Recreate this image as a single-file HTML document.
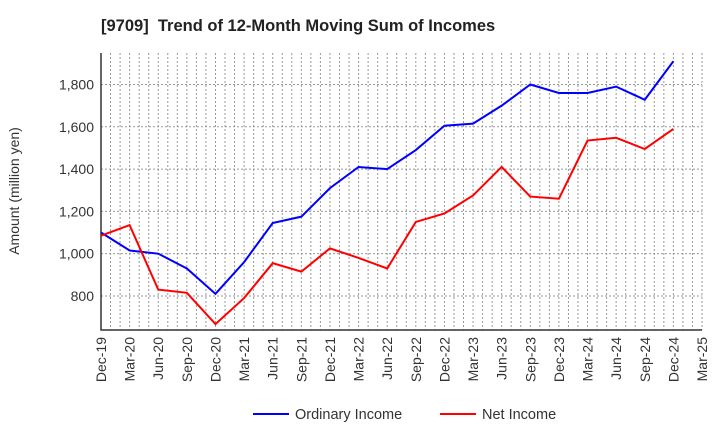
<!DOCTYPE html>
<html><head><meta charset="utf-8"><style>
body{margin:0;background:#fff;font-family:"Liberation Sans",sans-serif}
</style></head><body>
<svg width="720" height="440" xmlns="http://www.w3.org/2000/svg" font-family="Liberation Sans, sans-serif">
<text x="101" y="31" font-size="16.5" font-weight="bold" fill="#222" xml:space="preserve">[9709]  Trend of 12-Month Moving Sum of Incomes</text>
<g id="grid"></g><g id="axes"></g><g id="series"></g>
<text transform="translate(19,191) rotate(-90)" text-anchor="middle" font-size="14" fill="#333">Amount (million yen)</text>
<g>
<line x1="253" y1="414" x2="289" y2="414" stroke="#0000ff" stroke-width="2"/>
<text x="295" y="419" font-size="14.5" fill="#333">Ordinary Income</text>
<line x1="440" y1="414" x2="476" y2="414" stroke="#ff0000" stroke-width="2"/>
<text x="482" y="419" font-size="14.5" fill="#333">Net Income</text>
</g>
</svg>
<script>
const categories=["Dec-19","Mar-20","Jun-20","Sep-20","Dec-20","Mar-21","Jun-21","Sep-21","Dec-21","Mar-22","Jun-22","Sep-22","Dec-22","Mar-23","Jun-23","Sep-23","Dec-23","Mar-24","Jun-24","Sep-24","Dec-24","Mar-25"];
const ordinaryIncome=[1100,1015,1000,930,810,960,1145,1175,1310,1410,1400,1490,1605,1615,1700,1800,1760,1760,1790,1728,1910];
const netIncome=[1085,1135,830,815,667,790,955,915,1025,980,930,1150,1190,1275,1410,1270,1260,1535,1548,1495,1590];
const yTicks=[800,1000,1200,1400,1600,1800];
const L=101,R=702,T=53,B=330,yMin=639,yMax=1949;
const NS="http://www.w3.org/2000/svg";
const mstep=(R-L)/63;
function x(i){return L+i*3*mstep;}
function y(v){return B-(v-yMin)/(yMax-yMin)*(B-T);}
function mk(tag,attrs,parent){const e=document.createElementNS(NS,tag);for(const k in attrs)e.setAttribute(k,attrs[k]);parent.appendChild(e);return e;}
const grid=document.getElementById('grid'),axes=document.getElementById('axes'),series=document.getElementById('series');
for(let m=1;m<=63;m++){const l=mk('line',{x1:L+m*mstep,x2:L+m*mstep,y1:T,y2:B,stroke:'#999','stroke-dasharray':'2,2','stroke-width':1},grid);

}
yTicks.forEach(v=>{const l=mk('line',{x1:L,x2:R,y1:y(v),y2:y(v),stroke:'#999','stroke-dasharray':'2,2','stroke-width':1},grid);


const t=mk('text',{x:L-7,y:y(v)+5,'text-anchor':'end','font-size':14,fill:'#333'},axes);t.textContent=v.toLocaleString('en-US');

});
const ax=mk('path',{d:`M${L},${T}V${B}H${R}`,fill:'none',stroke:'#333','stroke-width':1.5},axes);


categories.forEach((c,i)=>{const t=mk('text',{transform:`translate(${x(i)+5},${B+7}) rotate(-90)`,'text-anchor':'end','font-size':14,fill:'#333'},axes);t.textContent=c;

});
function line(data,color,name){const p=mk('polyline',{points:data.map((v,i)=>x(i)+','+y(v)).join(' '),fill:'none',stroke:color,'stroke-width':2},series);

}
line(ordinaryIncome,'#0000ff','ordinary-income-line');
line(netIncome,'#ff0000','net-income-line');
</script>
</body></html>
